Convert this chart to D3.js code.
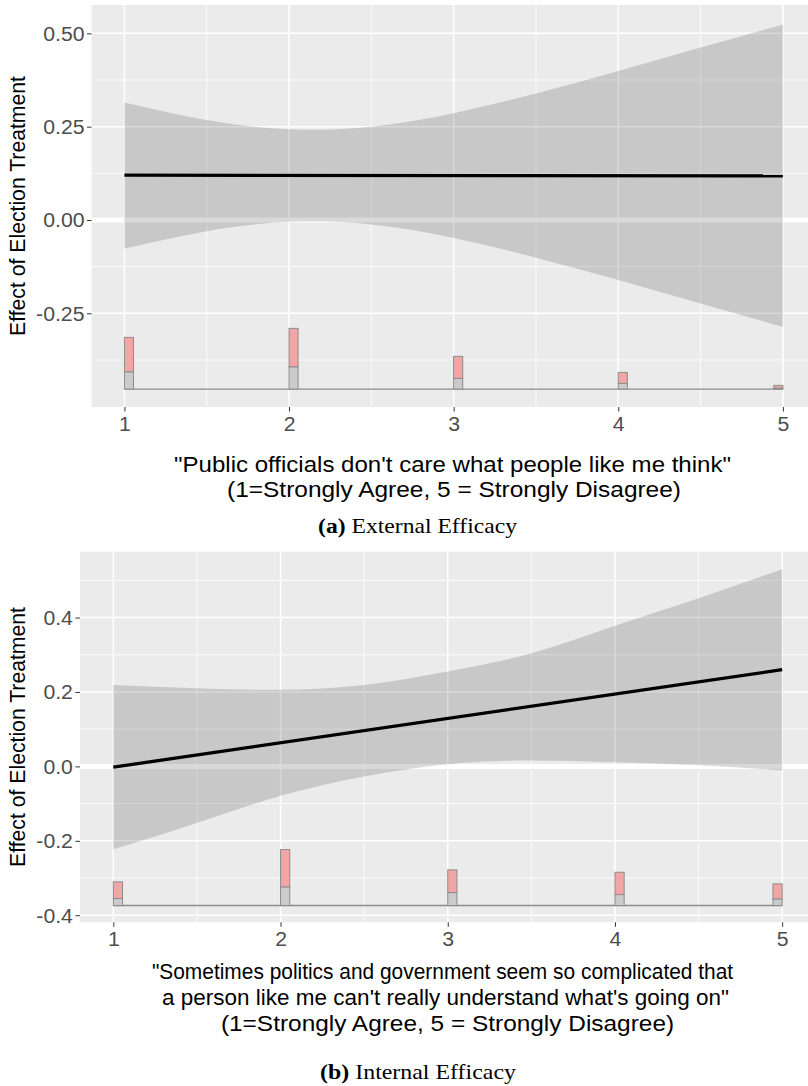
<!DOCTYPE html>
<html><head><meta charset="utf-8">
<script src="https://cdn.jsdelivr.net/npm/d3@7"></script>
<style>body{margin:0;background:#fff} svg{display:block}</style>
</head><body><svg id="c" width="808" height="1086"></svg>
<script>
// ---------------- DATA ----------------
const xTickValues = [1, 2, 3, 4, 5];
const xTickLabels = ["1", "2", "3", "4", "5"];

// Panel (a) External Efficacy
const extYTicks = [-0.25, 0, 0.25, 0.5];
const extYTickLabels = ["-0.25", "0.00", "0.25", "0.50"];
const extLineX = [1, 5];
const extLineY = [0.120, 0.118];
const extBandX = [1, 1.5, 2, 2.5, 3, 3.5, 4, 4.5, 5];
const extUpper = [0.315, 0.268, 0.243, 0.250, 0.286, 0.339, 0.399, 0.462, 0.524];
const extLower = [-0.077, -0.030, -0.005, -0.012, -0.048, -0.101, -0.161, -0.224, -0.286];
const extHistX = [1, 2, 3, 4, 5];
const extHistControl = [17.3, 22.3, 10.7, 5.7, 1.0];
const extHistTreated = [34.4, 38.4, 22.0, 11.0, 2.7];
const extXTitle = ["\"Public officials don't care what people like me think\"",
                   "(1=Strongly Agree, 5 = Strongly Disagree)"];
const extCaptionTag = "(a)";
const extCaption = " External Efficacy";

// Panel (b) Internal Efficacy
const intYTicks = [-0.4, -0.2, 0, 0.2, 0.4];
const intYTickLabels = ["-0.4", "-0.2", "0.0", "0.2", "0.4"];
const intLineX = [1, 5];
const intLineY = [-0.002, 0.260];
const intBandX = [1, 1.5, 2, 2.5, 3, 3.5, 4, 4.5, 5];
const intUpper = [0.219, 0.210, 0.206, 0.219, 0.255, 0.304, 0.378, 0.452, 0.530];
const intLower = [-0.223, -0.152, -0.079, -0.027, 0.006, 0.016, 0.011, 0.003, -0.011];
const intHistX = [1, 2, 3, 4, 5];
const intHistControl = [7.0, 18.7, 13.0, 11.0, 6.7];
const intHistTreated = [16.7, 37.3, 22.7, 22.3, 15.0];
const intXTitle = ["\"Sometimes politics and government seem so complicated that",
                   "a person like me can't really understand what's going on\"",
                   "(1=Strongly Agree, 5 = Strongly Disagree)"];
const intCaptionTag = "(b)";
const intCaption = " Internal Efficacy";

const yTitle = "Effect of Election Treatment";

// ---------------- DRAWING ----------------
const svg = d3.select("#c");
const SANS = "'Liberation Sans', Arial, Helvetica, sans-serif";
const SERIF = "'Liberation Serif', 'Times New Roman', serif";

function fitText(sel, cx, base, width) {
  const w = sel.node().getComputedTextLength();
  sel.attr("transform", `translate(${cx},${base}) scale(${width / w},1)`);
}

function drawPanel(o) {
  const x = d3.scaleLinear().domain([0.8, 5.2]).range([o.left, o.right]);
  const y = d3.scaleLinear().domain(o.yDomain).range([o.bottom, o.top]);
  const g = svg.append("g");

  g.append("rect").attr("x", o.left).attr("y", o.top)
    .attr("width", o.right - o.left).attr("height", o.bottom - o.top)
    .attr("fill", "#EBEBEB");

  // minor grid
  const yMinor = [];
  const step = o.yTicks[1] - o.yTicks[0];
  for (let v = o.yTicks[0] - step / 2; v <= o.yDomain[1]; v += step) {
    if (v >= o.yDomain[0]) yMinor.push(v);
  }
  const xMinor = [1.5, 2.5, 3.5, 4.5];
  g.selectAll(".ymin").data(yMinor).join("line")
    .attr("x1", o.left).attr("x2", o.right)
    .attr("y1", d => y(d)).attr("y2", d => y(d))
    .attr("stroke", "#fff").attr("stroke-width", 0.8);
  g.selectAll(".xmin").data(xMinor).join("line")
    .attr("y1", o.top).attr("y2", o.bottom)
    .attr("x1", d => x(d)).attr("x2", d => x(d))
    .attr("stroke", "#fff").attr("stroke-width", 0.8);
  // major grid
  g.selectAll(".ymaj").data(o.yTicks).join("line")
    .attr("x1", o.left).attr("x2", o.right)
    .attr("y1", d => y(d)).attr("y2", d => y(d))
    .attr("stroke", "#fff").attr("stroke-width", 1.5);
  g.selectAll(".xmaj").data(xTickValues).join("line")
    .attr("y1", o.top).attr("y2", o.bottom)
    .attr("x1", d => x(d)).attr("x2", d => x(d))
    .attr("stroke", "#fff").attr("stroke-width", 1.5);
  // zero line
  g.append("line").attr("x1", o.left).attr("x2", o.right)
    .attr("y1", y(0)).attr("y2", y(0))
    .attr("stroke", "#fff").attr("stroke-width", 5);

  // ribbon
  const band = o.bandX.map((d, i) => ({x: d, lo: o.lower[i], hi: o.upper[i]}));
  g.append("path").datum(band)
    .attr("d", d3.area().curve(d3.curveNatural)
      .x(d => x(d.x)).y0(d => y(d.lo)).y1(d => y(d.hi)))
    .attr("fill", "#000").attr("fill-opacity", 0.15);

  // effect line
  const ln = o.lineX.map((d, i) => ({x: d, y: o.lineY[i]}));
  g.append("path").datum(ln)
    .attr("d", d3.line().x(d => x(d.x)).y(d => y(d.y)))
    .attr("fill", "none").attr("stroke", "#000").attr("stroke-width", 3.3);

  // histogram
  const total = o.histX.map((d, i) => o.histControl[i] + o.histTreated[i]);
  const maxTotal = d3.max(total);
  const span = o.yDomain[1] - o.yDomain[0];
  const h = d3.scaleLinear().domain([0, maxTotal]).range([0, 0.151 * span]);
  const bw = 0.055;
  const bars = o.histX.map((d, i) => ({
    x0: Math.min(d, 5 - bw), x1: Math.min(d, 5 - bw) + bw,
    c: o.histControl[i], t: o.histTreated[i]
  }));
  g.append("line").attr("x1", x(1)).attr("x2", x(5))
    .attr("y1", y(o.histBase)).attr("y2", y(o.histBase))
    .attr("stroke", "#8c8c8c").attr("stroke-width", 1.4);
  g.selectAll(".hc").data(bars).join("rect")
    .attr("x", d => x(d.x0)).attr("width", d => x(d.x1) - x(d.x0))
    .attr("y", d => y(o.histBase + h(d.c)))
    .attr("height", d => y(o.histBase) - y(o.histBase + h(d.c)))
    .attr("fill", "#CBCBCB").attr("stroke", "#8c8c8c").attr("stroke-width", 1);
  g.selectAll(".ht").data(bars).join("rect")
    .attr("x", d => x(d.x0)).attr("width", d => x(d.x1) - x(d.x0))
    .attr("y", d => y(o.histBase + h(d.c + d.t)))
    .attr("height", d => y(o.histBase + h(d.c)) - y(o.histBase + h(d.c + d.t)))
    .attr("fill", "#F2A5A5").attr("stroke", "#8c8c8c").attr("stroke-width", 1);

  // axes
  const ya = g.append("g").attr("transform", `translate(${o.left},0)`)
    .call(d3.axisLeft(y).tickValues(o.yTicks)
      .tickFormat((d, i) => o.yTickLabels[i]).tickSize(4.5).tickPadding(2.2));
  const xa = g.append("g").attr("transform", `translate(0,${o.bottom})`)
    .call(d3.axisBottom(x).tickValues(xTickValues)
      .tickFormat((d, i) => xTickLabels[i]).tickSize(4.5).tickPadding(2.5));
  [ya, xa].forEach(a => {
    a.select(".domain").remove();
    a.selectAll(".tick line").attr("stroke", "#333").attr("stroke-width", 1);
    a.selectAll("text").attr("fill", "#4D4D4D").style("font-size", "19.5px")
      .style("font-family", SANS);
  });
  ya.selectAll("text").attr("x", 0).attr("dy", "0.35em")
    .attr("transform", `translate(${-7},0) scale(1.09,1)`);
  xa.selectAll("text").attr("y", 0).attr("dy", 0)
    .attr("transform", `translate(0,${o.tickLabelBase - o.bottom}) scale(1.09,1)`);

  // y title
  g.append("text").text(yTitle)
    .attr("transform", `translate(24.5,${(o.top + o.bottom) / 2}) rotate(-90)`)
    .attr("text-anchor", "middle").style("font-family", SANS)
    .style("font-size", "21.2px").attr("fill", "#000");

  // x title (each line fitted to its extent in the original)
  o.xTitle.forEach((t, i) => {
    const tx = g.append("text").text(t)
      .attr("text-anchor", "middle").style("font-family", SANS)
      .style("font-size", "21.2px").attr("fill", "#000");
    fitText(tx, o.xTitleCx[i], o.xTitleBase[i], o.xTitleW[i]);
  });

  // caption
  const cap = g.append("text").attr("text-anchor", "middle")
    .style("font-family", SERIF).style("font-size", "21px").attr("fill", "#000");
  cap.append("tspan").text(o.capTag).style("font-weight", "bold");
  cap.append("tspan").text(o.cap);
  fitText(cap, o.capX, o.capBase, o.capW);
}

drawPanel({
  left: 91.5, right: 815.8, top: 5, bottom: 407, yDomain: [-0.501, 0.576],
  yTicks: extYTicks, yTickLabels: extYTickLabels,
  lineX: extLineX, lineY: extLineY, bandX: extBandX, upper: extUpper, lower: extLower,
  histX: extHistX, histControl: extHistControl, histTreated: extHistTreated, histBase: -0.453,
  tickLabelBase: 431, xTitle: extXTitle, xTitleBase: [472, 497],
  xTitleCx: [452.5, 454], xTitleW: [557, 454],
  capTag: extCaptionTag, cap: extCaption, capX: 417.5, capBase: 533, capW: 199
});
drawPanel({
  left: 79.9, right: 815.6, top: 551.7, bottom: 922.3, yDomain: [-0.419, 0.577],
  yTicks: intYTicks, yTickLabels: intYTickLabels,
  lineX: intLineX, lineY: intLineY, bandX: intBandX, upper: intUpper, lower: intLower,
  histX: intHistX, histControl: intHistControl, histTreated: intHistTreated, histBase: -0.374,
  tickLabelBase: 946, xTitle: intXTitle, xTitleBase: [979, 1005, 1031],
  xTitleCx: [442.5, 445.5, 447.5], xTitleW: [581, 567, 453],
  capTag: intCaptionTag, cap: intCaption, capX: 418, capBase: 1079, capW: 196
});
</script></body></html>
